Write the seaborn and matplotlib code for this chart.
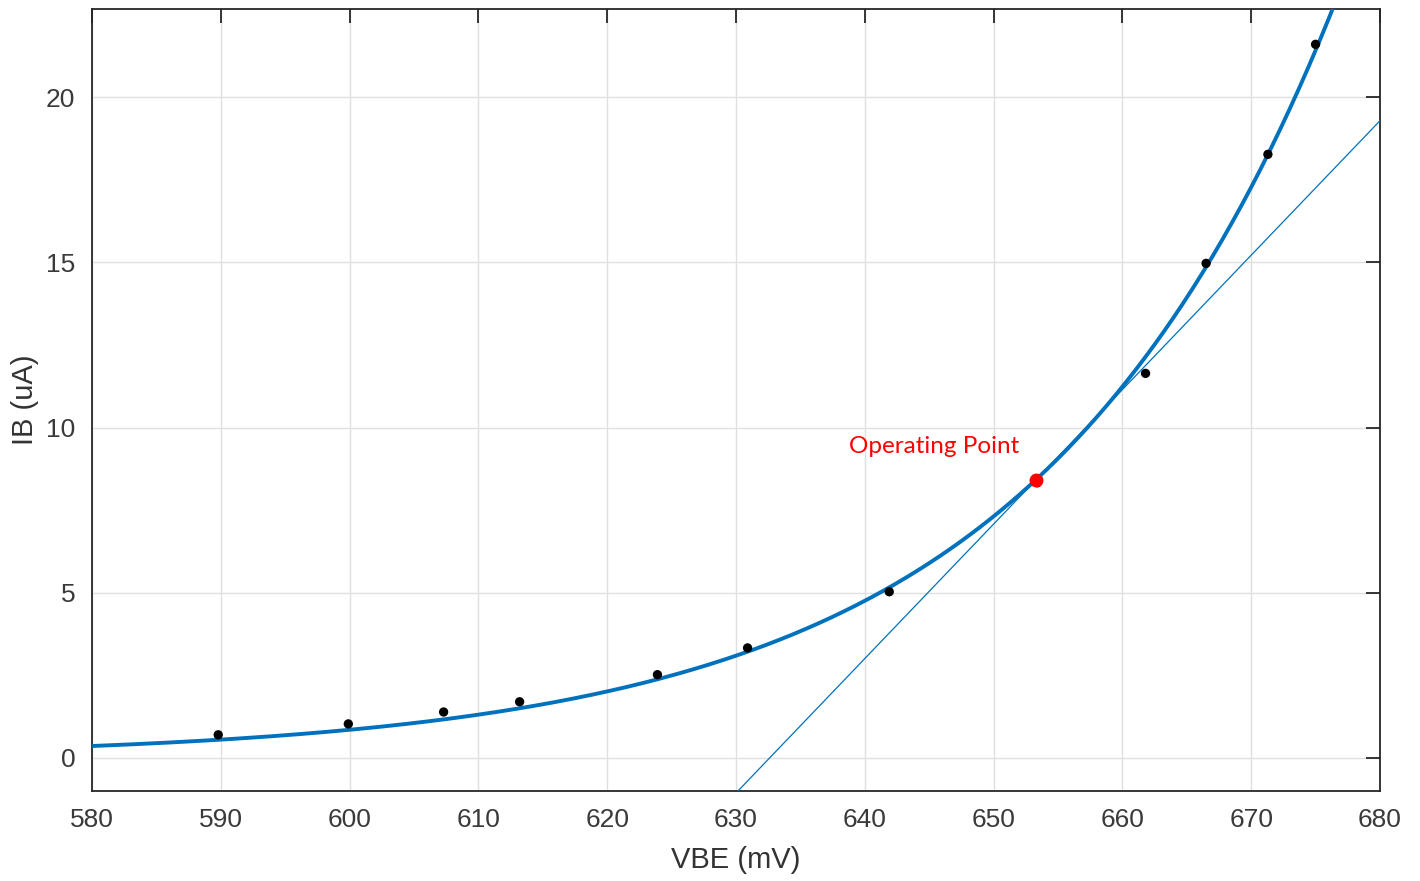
import numpy as np
import pandas as pd
import matplotlib.pyplot as plt
import seaborn as sns

vbe_mv = [589.8, 599.9, 607.3, 613.2, 623.9, 630.9, 641.9, 653.4, 661.8, 666.5, 671.3, 675.0]
ib_ua = [0.70, 1.03, 1.39, 1.70, 2.52, 3.33, 5.03, 8.33, 11.64, 14.97, 18.27, 21.60]

# Operating point and the line drawn through it
op_vbe = 653.3
op_ib = 8.42
tangent_slope = 0.407  # uA per mV
tangent_vbe = [630.0, 680.0]

df = pd.DataFrame({"VBE": vbe_mv, "IB": ib_ua})

# Exponential fit (least squares weighted toward the large currents)
b, ln_a = np.polyfit(df["VBE"] - 580, np.log(df["IB"]), 1, w=df["IB"])
fit_x = np.linspace(580, 680, 400)
fit = pd.DataFrame({"VBE": fit_x, "IB": np.exp(ln_a) * np.exp(b * (fit_x - 580))})

tan = pd.DataFrame({"VBE": tangent_vbe})
tan["IB"] = op_ib + tangent_slope * (tan["VBE"] - op_vbe)

sns.set_theme(style="whitegrid")
plt.rcParams["font.family"] = ["Liberation Sans", "DejaVu Sans"]

fig = plt.figure(figsize=(14.2, 8.81), dpi=100)
ax = fig.add_axes([0.0648, 0.1022, 0.907, 0.8876])

sns.lineplot(data=fit, x="VBE", y="IB", ax=ax, color="#0072BD", linewidth=2.8, zorder=3)
sns.lineplot(data=tan, x="VBE", y="IB", ax=ax, color="#0072BD", linewidth=0.9, zorder=3)
sns.scatterplot(data=df, x="VBE", y="IB", ax=ax, color="black", s=45, edgecolor="none", zorder=4)
ax.plot([op_vbe], [op_ib], "o", color="red", markersize=9, zorder=5)
ax.text(op_vbe - 1.3, op_ib + 0.7, "Operating Point", color="red",
        fontsize=17.5, family=["Lato", "DejaVu Sans"], ha="right", va="bottom")

ax.set_xlim(580, 680)
ax.set_ylim(-1.0, 22.67)
ax.set_xticks(range(580, 681, 10))
ax.set_yticks([0, 5, 10, 15, 20])
ax.set_xlabel("VBE (mV)", fontsize=21, color="#333333", labelpad=10)
ax.set_ylabel("IB (uA)", fontsize=21, color="#333333", labelpad=5)

ax.set_facecolor("white")
ax.grid(True, color="#e0e0e0", linewidth=1.0)
for sp in ax.spines.values():
    sp.set_visible(True)
    sp.set_color("#262626")
    sp.set_linewidth(1.3)
ax.tick_params(axis="both", direction="in", length=10, width=1.3, color="#262626",
               labelsize=19, labelcolor="#3a3a3a", top=True, right=True, pad=12)

fig.savefig("out.png", dpi=100, facecolor="white")
